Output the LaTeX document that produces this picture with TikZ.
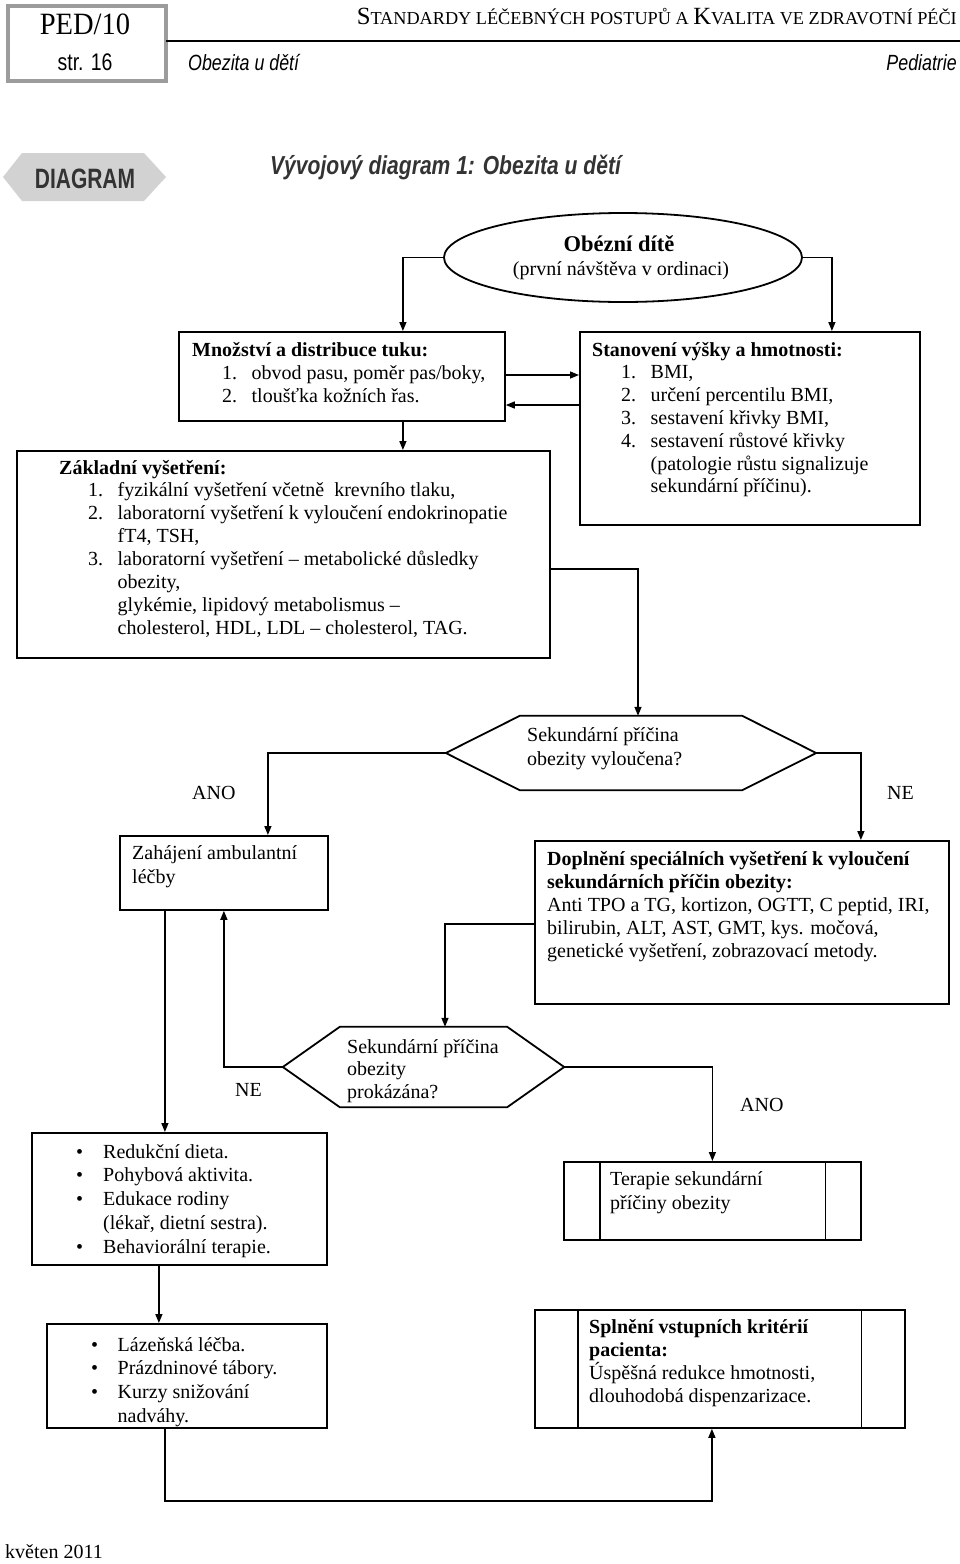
\documentclass[tikz,border=0pt]{standalone}
\usepackage{graphicx}
\usepackage{fontspec}
\setmainfont{Liberation Serif}
\newfontfamily\hsans[FakeStretch=0.81]{Liberation Sans}
\newfontfamily\hsansc[FakeStretch=0.75]{Liberation Sans}
\newfontfamily\pedserif[FakeStretch=0.92]{Liberation Serif}
\usetikzlibrary{arrows.meta,shapes.geometric,calc}
\definecolor{framegray}{HTML}{9C9C9C}
\definecolor{labelgray}{HTML}{D2D2D2}
\definecolor{darktext}{HTML}{333333}
\newcommand{\myblock}[2]{\vtop{\baselineskip=#1\lineskiplimit=-100pt\lineskip=0pt #2}}
\newcommand{\myitem}[3]{\hbox{\kern#1\hbox to 29.5pt{#2\hss}#3}}
\newcommand{\mycont}[2]{\hbox{\kern#1 #2}}
\newcommand{\mybul}[3]{\hbox{\hbox to #1{\textbullet\hss}#2}}
\begin{document}
\begin{tikzpicture}[x=1pt,y=-1pt,
  box/.style={draw, line width=1.8pt, inner sep=0pt, anchor=north west},
  txt/.style={inner sep=0pt, anchor=base west, font=\fontsize{20}{23}\selectfont},
  arr/.style={line width=1.4pt, -{Triangle[length=9pt,width=7pt]}},
  hexline/.style={line width=1.8pt, line join=miter}]
\useasboundingbox (0,0) rectangle (960,1564);

% ---------- header ----------
\node[draw=framegray, line width=4pt, minimum width=158pt, minimum height=75pt, anchor=north west, inner sep=0pt] (frame) at (6,4) {};
\node[inner sep=0pt, anchor=base, font=\pedserif\fontsize{31}{31}\selectfont] (ped) at (85,34) {PED/10};
\node[inner sep=0pt, anchor=base, font=\hsans\fontsize{24}{24}\selectfont] (str) at (85,70) {str. 16};
\node[inner sep=0pt, anchor=base east] (std) at (957,24) {\resizebox{600pt}{!}{\fontsize{21}{21}\selectfont S\fontsize{15.5}{15.5}\selectfont TANDARDY LÉČEBNÝCH POSTUPŮ A \fontsize{21}{21}\selectfont K\fontsize{15.5}{15.5}\selectfont VALITA VE ZDRAVOTNÍ PÉČI}};
\draw[line width=2.6pt] (166,41) -- (960,41);
\node[inner sep=0pt, anchor=base west, font=\hsans\itshape\fontsize{22}{22}\selectfont] (sub) at (188,70) {Obezita u dětí};
\node[inner sep=0pt, anchor=base east, font=\hsans\itshape\fontsize{22}{22}\selectfont] (ped2) at (957,70) {Pediatrie};

\fill[labelgray] (3,177) -- (22,153) -- (144,153) -- (166,177) -- (144,201) -- (22,201) -- cycle;
\node[inner sep=0pt, anchor=base, text=darktext, font=\hsansc\bfseries\fontsize{28}{28}\selectfont] (diag) at (85,188) {DIAGRAM};
\node[inner sep=0pt, anchor=base west, text=darktext, font=\hsans\bfseries\itshape\fontsize{26}{26}\selectfont] (title) at (270,174) {Vývojový diagram 1: Obezita u dětí};

% ---------- shapes ----------
\node[draw, ellipse, line width=1.8pt, minimum width=358pt, minimum height=89pt, inner sep=0pt] (ell) at (623,257.5) {};
\node[inner sep=0pt, anchor=base, font=\bfseries\fontsize{22.5}{25}\selectfont] (ellT) at (619,251) {Obézní dítě};
\node[inner sep=0pt, anchor=base, font=\fontsize{20}{23}\selectfont] (ellS) at (621,275) {(první návštěva v ordinaci)};

\node[box, minimum width=326pt, minimum height=89pt] (mnoz) at (178,331) {};
\node[box, minimum width=340pt, minimum height=193pt] (stan) at (579,331) {};
\node[box, minimum width=533pt, minimum height=207pt] (zakl) at (16,450) {};

\node[minimum width=370pt, minimum height=74pt, inner sep=0pt] (d1) at (631,753) {};
\draw[hexline] (d1.west) -- ([xshift=74pt]d1.north west) -- ([xshift=-74pt]d1.north east) -- (d1.east) -- ([xshift=-74pt]d1.south east) -- ([xshift=74pt]d1.south west) -- cycle;

\node[box, minimum width=208pt, minimum height=74pt] (zah) at (119,835) {};
\node[box, minimum width=414pt, minimum height=163pt] (dopl) at (534,840) {};

\node[minimum width=281pt, minimum height=80pt, inner sep=0pt] (d2) at (423.5,1067) {};
\draw[hexline] (d2.west) -- ([xshift=57pt]d2.north west) -- ([xshift=-57pt]d2.north east) -- (d2.east) -- ([xshift=-57pt]d2.south east) -- ([xshift=57pt]d2.south west) -- cycle;

\node[box, minimum width=295pt, minimum height=132pt] (red) at (31,1132) {};
\node[box, minimum width=297pt, minimum height=78pt] (ter) at (563,1161) {};
\draw[line width=1.2pt] ([xshift=37pt]ter.north west) -- ([xshift=37pt]ter.south west);
\draw[line width=1.2pt] ([xshift=-36pt]ter.north east) -- ([xshift=-36pt]ter.south east);
\node[box, minimum width=280pt, minimum height=104pt] (laz) at (46,1323) {};
\node[box, minimum width=370pt, minimum height=118pt] (spl) at (534,1309) {};
\draw[line width=1.2pt] ([xshift=44pt]spl.north west) -- ([xshift=44pt]spl.south west);
\draw[line width=1.2pt] ([xshift=-44pt]spl.north east) -- ([xshift=-44pt]spl.south east);

% ---------- texts ----------
\node[txt] (mnozT) at (192,356) {\myblock{23pt}{%
  \hbox{\bfseries Množství a distribuce tuku:}%
  \myitem{30pt}{1.}{obvod pasu, poměr pas/boky,}%
  \myitem{30pt}{2.}{tloušťka kožních řas.}}};
\node[txt] (stanT) at (592,356) {\myblock{22.8pt}{%
  \hbox{\bfseries Stanovení výšky a hmotnosti:}%
  \myitem{29pt}{1.}{BMI,}%
  \myitem{29pt}{2.}{určení percentilu BMI,}%
  \myitem{29pt}{3.}{sestavení křivky BMI,}%
  \myitem{29pt}{4.}{sestavení růstové křivky}%
  \mycont{58.5pt}{(patologie růstu signalizuje}%
  \mycont{58.5pt}{sekundární příčinu).}}};
\node[txt] (zaklT) at (59,474) {\myblock{22.86pt}{%
  \hbox{\bfseries Základní vyšetření:}%
  \myitem{29pt}{1.}{fyzikální vyšetření včetně\hspace{0.5em}krevního tlaku,}%
  \myitem{29pt}{2.}{laboratorní vyšetření k vyloučení endokrinopatie}%
  \mycont{58.5pt}{fT4, TSH,}%
  \myitem{29pt}{3.}{laboratorní vyšetření – metabolické důsledky}%
  \mycont{58.5pt}{obezity,}%
  \mycont{58.5pt}{glykémie, lipidový metabolismus –}%
  \mycont{58.5pt}{cholesterol, HDL, LDL – cholesterol, TAG.}}};
\node[txt] (d1T) at (527,741) {\myblock{24pt}{\hbox{Sekundární příčina}\hbox{obezity vyloučena?}}};
\node[txt] (zahT) at (132,859) {\myblock{24pt}{\hbox{Zahájení ambulantní}\hbox{léčby}}};
\node[txt] (doplT) at (547,865) {\myblock{23pt}{%
  \hbox{\bfseries Doplnění speciálních vyšetření k vyloučení}%
  \hbox{\bfseries sekundárních příčin obezity:}%
  \hbox{Anti TPO a TG, kortizon, OGTT, C peptid, IRI,}%
  \hbox{bilirubin, ALT, AST, GMT, kys. močová,}%
  \hbox{genetické vyšetření, zobrazovací metody.}}};
\node[txt] (d2T) at (347,1053) {\myblock{22.5pt}{\hbox{Sekundární příčina}\hbox{obezity}\hbox{prokázána?}}};
\node[txt] (redT) at (76,1158) {\myblock{23.75pt}{%
  \mybul{27pt}{Redukční dieta.}{}%
  \mybul{27pt}{Pohybová aktivita.}{}%
  \mybul{27pt}{Edukace rodiny}{}%
  \mycont{27pt}{(lékař, dietní sestra).}%
  \mybul{27pt}{Behaviorální terapie.}{}}};
\node[txt] (terT) at (610,1185) {\myblock{24pt}{\hbox{Terapie sekundární}\hbox{příčiny obezity}}};
\node[txt] (lazT) at (91,1351) {\myblock{23.7pt}{%
  \mybul{26.5pt}{Lázeňská léčba.}{}%
  \mybul{26.5pt}{Prázdninové tábory.}{}%
  \mybul{26.5pt}{Kurzy snižování}{}%
  \mycont{26.5pt}{nadváhy.}}};
\node[txt] (splT) at (589,1333) {\myblock{23.3pt}{%
  \hbox{\bfseries Splnění vstupních kritérií}%
  \hbox{\bfseries pacienta:}%
  \hbox{Úspěšná redukce hmotnosti,}%
  \hbox{dlouhodobá dispenzarizace.}}};

\node[txt] (ano1) at (192,799) {ANO};
\node[txt] (ne1) at (887,799) {NE};
\node[txt] (ne2) at (235,1096) {NE};
\node[txt] (ano2) at (740,1111) {ANO};
\node[txt] (date) at (5,1558) {květen 2011};

% ---------- connectors ----------
\coordinate (mt) at ([xshift=61pt]mnoz.north);
\draw[arr] (ell.west) -| (mt);
\coordinate (st) at ([xshift=82pt]stan.north);
\draw[arr] (ell.east) -| (st);
\draw[arr] ([yshift=-44pt]mnoz.north east) -- ([yshift=-44pt]stan.north west);
\draw[arr] ([yshift=-74pt]stan.north west) -- ([yshift=-74pt]mnoz.north east);
\coordinate (mb) at ([xshift=61pt]mnoz.south);
\draw[arr] (mb) -- (mb |- zakl.north);
\coordinate (ze) at ([yshift=-119pt]zakl.north east);
\coordinate (d1t) at ([xshift=7pt]d1.north);
\draw[arr] (ze) -| (d1t);
\coordinate (zt) at ([xshift=44pt]zah.north);
\draw[arr] (d1.west) -| (zt);
\coordinate (dt) at ([xshift=119pt]dopl.north);
\draw[arr] (d1.east) -| (dt);
\coordinate (dl) at ([yshift=-84pt]dopl.north west);
\coordinate (d2t) at ([xshift=21.5pt]d2.north);
\draw[arr] (dl) -| (d2t);
\draw[arr] (d2.west) -| (zah.south);
\draw[arr] (d2.east) -| (ter.north);
\coordinate (zb) at ([xshift=-59pt]zah.south);
\draw[arr] (zb) -- (zb |- red.north);
\coordinate (rb) at ([xshift=-20.5pt]red.south);
\draw[arr] (rb) -- (rb |- laz.north);
\coordinate (lb) at ([xshift=-22pt]laz.south);
\coordinate (sb) at ([xshift=-8pt]spl.south);
\draw[arr] (lb) -- ++(0,72) -| (sb);
\end{tikzpicture}
\end{document}
